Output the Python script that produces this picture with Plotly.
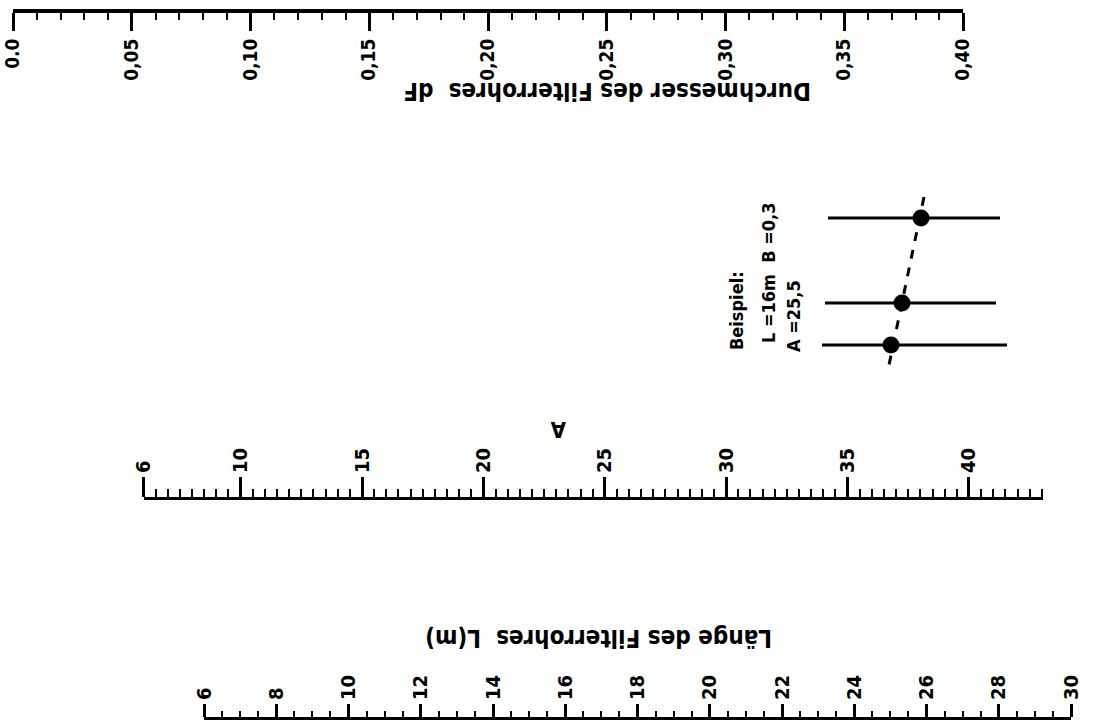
import plotly.graph_objects as go

# ---------------- data ----------------
# top scale: diameter of the filter pipe dF
dp_ticks = [0.0, 0.05, 0.10, 0.15, 0.20, 0.25, 0.30, 0.35, 0.40]
dp_labels = ["0.0", "0,05", "0,10", "0,15", "0,20", "0,25", "0,30", "0,35", "0,40"]
dp_range = [0.0, 0.40]
dp_minor_step = 0.01

# middle scale: A
a_ticks = [6, 10, 15, 20, 25, 30, 35, 40]
a_labels = ["6", "10", "15", "20", "25", "30", "35", "40"]
a_range = [6, 43.05]
a_minor_step = 0.5

# bottom scale: length of the filter pipe L (m)
l_ticks = [6, 8, 10, 12, 14, 16, 18, 20, 22, 24, 26, 28, 30]
l_labels = ["6", "8", "10", "12", "14", "16", "18", "20", "22", "24", "26", "28", "30"]
l_range = [6, 30]
l_minor_step = 0.5

# example sketch (schematic units of the sheet)
ex_row_y = [218, 303, 345]
ex_line_x0 = [828, 825, 822]
ex_line_x1 = [1000, 996, 1007]
ex_dot_x = [921, 902, 891]
ex_dash_x = [924, 889]
ex_dash_y = [197, 365]
ex_text = ["Beispiel:", "L =16m  B =0,3", "A =25,5"]
ex_text_x = [736, 768, 793]
ex_text_y = [311, 273, 316]

W, H = 1097, 725
FONT = "DejaVu Sans Condensed"
tick_font = dict(family=FONT, size=20, color="black", weight="bold")


def px(v):
    return v / W


def py(v):
    return 1 - v / H


def minor_positions(rng, step):
    n = int(round((rng[1] - rng[0]) / step))
    return [round(rng[0] + i * step, 6) for i in range(n + 1)]


fig = go.Figure()

# invisible anchor traces so each scale is drawn
for ax, vals in (("x", dp_ticks), ("x2", a_ticks), ("x3", l_ticks)):
    fig.add_trace(go.Scatter(x=vals, y=[0.5] * len(vals), xaxis=ax, yaxis="y",
                             mode="markers", marker=dict(opacity=0),
                             hoverinfo="skip", showlegend=False))

# example: three short lines with dots and the dashed index line
for y, x0, x1, xd in zip(ex_row_y, ex_line_x0, ex_line_x1, ex_dot_x):
    fig.add_trace(go.Scatter(x=[x0, x1], y=[y, y], xaxis="x4", yaxis="y4",
                             mode="lines", line=dict(color="black", width=3),
                             hoverinfo="skip", showlegend=False))
fig.add_trace(go.Scatter(x=ex_dash_x, y=ex_dash_y, xaxis="x4", yaxis="y4",
                         mode="lines", line=dict(color="black", width=3, dash="dash"),
                         hoverinfo="skip", showlegend=False))
fig.add_trace(go.Scatter(x=ex_dot_x, y=ex_row_y, xaxis="x4", yaxis="y4",
                         mode="markers", marker=dict(color="black", size=17),
                         hoverinfo="skip", showlegend=False))


def scale_axis(domain, rng, pos, side, ticks, labels, lw, tlen, mlen, mstep, tfont):
    return dict(domain=domain, range=rng, anchor="free", position=pos, side=side,
                showline=True, linecolor="black", linewidth=lw,
                ticks="outside", ticklen=tlen, tickwidth=2.5, tickcolor="black",
                tickmode="array", tickvals=ticks, ticktext=labels, tickangle=-90,
                tickfont=tfont,
                minor=dict(tickmode="array", tickvals=minor_positions(rng, mstep),
                           ticks="outside", ticklen=mlen, tickwidth=2,
                           tickcolor="black", showgrid=False),
                showgrid=False, zeroline=False, fixedrange=True, automargin=False)


fig.update_layout(
    width=W, height=H,
    margin=dict(l=0, r=0, t=0, b=0),
    paper_bgcolor="white", plot_bgcolor="rgba(0,0,0,0)",
    showlegend=False,
    xaxis=scale_axis([px(13), px(963)], dp_range, py(11), "bottom",
                     dp_ticks, dp_labels, 4, 18, 7, dp_minor_step,
                     dict(tick_font, size=19)),
    xaxis2=scale_axis([px(143.5), px(1043)], a_range, py(498), "top",
                      a_ticks, a_labels, 3, 20, 8, a_minor_step, tick_font),
    xaxis3=scale_axis([px(204), px(1071)], l_range, py(718), "top",
                      l_ticks, l_labels, 3, 13, 6, l_minor_step, tick_font),
    yaxis=dict(domain=[0, 1], range=[0, 1], visible=False, fixedrange=True),
    xaxis4=dict(domain=[0, 1], range=[0, W], visible=False, anchor="y4", fixedrange=True),
    yaxis4=dict(domain=[0, 1], range=[H, 0], visible=False, anchor="x4", fixedrange=True),
)

title_font = dict(family=FONT, size=24, color="black", weight="bold")
annotations = [
    dict(text="Durchmesser des Filterrohres  dF", x=607, y=91, textangle=180,
         font=title_font),
    dict(text="A", x=558, y=430, textangle=180, font=dict(title_font, size=22)),
    dict(text="Länge des Filterrohres  L(m)", x=599, y=638, textangle=180,
         font=title_font),
]
for t, x, y in zip(ex_text, ex_text_x, ex_text_y):
    annotations.append(dict(text=t, x=x, y=y, textangle=-90,
                            font=dict(family=FONT, size=18, color="black", weight="bold")))
for a in annotations:
    a.update(xref="x4", yref="y4", showarrow=False, xanchor="center", yanchor="middle")
fig.update_layout(annotations=annotations)

fig.write_html("out.html", config={"displayModeBar": False},
               post_script="document.body.style.margin='0';")
